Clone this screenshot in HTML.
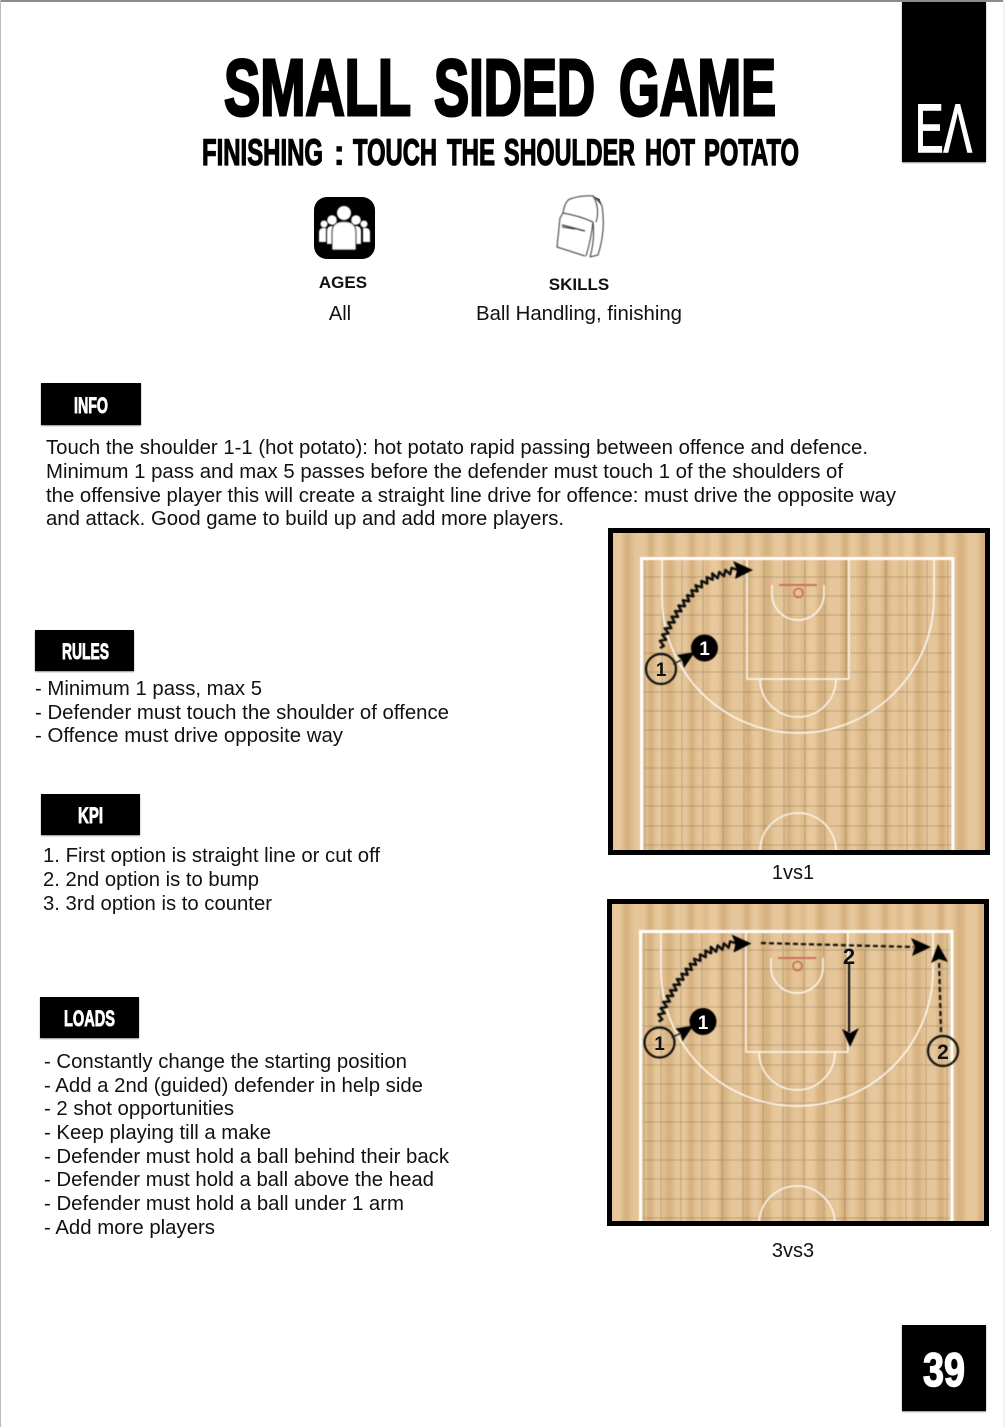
<!DOCTYPE html>
<html lang="en">
<head>
<meta charset="utf-8">
<title>Small Sided Game</title>
<style>
html,body{margin:0;padding:0;background:#fff;width:1005px;height:1427px;overflow:hidden}
svg{display:block}
text{font-family:"Liberation Sans",sans-serif;fill:#111}
.b{font-size:20px}
.t{font-family:"Liberation Sans Narrow","Liberation Sans",sans-serif;font-weight:700;fill:#000;stroke:#000}
.t1{font-size:80px;stroke-width:3}
.t2{font-size:37px;stroke-width:1.300}
.w{font-family:"Liberation Sans Narrow","Liberation Sans",sans-serif;font-weight:700;font-size:22.500px;fill:#fff;stroke:#fff;stroke-width:.9}
</style>
</head>
<body>
<svg xmlns="http://www.w3.org/2000/svg" width="1005" height="1427" viewBox="0 0 1005 1427">
<defs>
  <pattern id="grain" patternUnits="userSpaceOnUse" x="610" y="0" width="97" height="40">
    <rect x="0" y="0" width="97" height="40" fill="#dfbc8c"/>
    <rect x="3" y="0" width="9" height="40" fill="#eed3ab" opacity=".55"/>
    <rect x="15" y="0" width="5" height="40" fill="#cda673" opacity=".5"/>
    <rect x="24" y="0" width="12" height="40" fill="#ecd0a7" opacity=".5"/>
    <rect x="39" y="0" width="4" height="40" fill="#c9a06b" opacity=".45"/>
    <rect x="46" y="0" width="7" height="40" fill="#f0d7b2" opacity=".45"/>
    <rect x="57" y="0" width="6" height="40" fill="#cfa976" opacity=".5"/>
    <rect x="66" y="0" width="11" height="40" fill="#ecd1a9" opacity=".5"/>
    <rect x="80" y="0" width="4" height="40" fill="#c8a06c" opacity=".45"/>
    <rect x="87" y="0" width="7" height="40" fill="#edd2aa" opacity=".4"/>
  </pattern>
  <filter id="soft" x="-5%" y="-5%" width="110%" height="110%"><feGaussianBlur stdDeviation="0.5"/></filter>
  <filter id="soft2" x="0" y="0" width="100%" height="100%"><feGaussianBlur stdDeviation="1.200 0"/></filter>
  <filter id="shadow" x="-5%" y="-5%" width="110%" height="110%"><feDropShadow dx="0" dy="1" stdDeviation="0.8" flood-color="#000" flood-opacity=".45"/></filter>
  <clipPath id="cc"><rect x="610" y="530" width="378" height="322"/></clipPath>
  <g id="court" clip-path="url(#cc)">
    <rect x="610" y="530" width="378" height="322" fill="url(#grain)" filter="url(#soft2)"/>
    <g filter="url(#soft)">
      <path d="M645 558V852M662 558V852M682 558V852M703 558V852M723 558V852M744 558V852M764 558V852M784 558V852M805 558V852M825 558V852M846 558V852M866 558V852M886 558V852M907 558V852M927 558V852M948 558V852M643 577H952M643 596H952M643 615H952M643 634H952M643 653H952M643 672H952M643 692H952M643 711H952M643 730H952M643 749H952M643 768H952M643 787H952M643 806H952M643 826H952M643 845H952" fill="none" stroke="#6b5a48" stroke-opacity=".34" stroke-width="1"/>
      <path d="M641.500 852V558.500H953V852" fill="none" stroke="#fff" stroke-width="3"/>
      <g fill="none" stroke="#fff" stroke-opacity=".9" stroke-width="1.500">
        <path d="M747 558V679H849V558"/>
        <path d="M662 558V597A136 136 0 0 0 934 597V558"/>
        <path d="M772 585V594A26 26 0 0 0 824 594V585"/>
        <path d="M760 679A38 38 0 0 0 836 679"/>
        <circle cx="798" cy="851" r="38"/>
      </g>
      <path d="M779 585H817" stroke="#c9684c" stroke-width="1.800"/>
      <circle cx="798.500" cy="593" r="4.500" fill="none" stroke="#c9684c" stroke-width="1.500"/>
    </g>
  </g>
  <g id="play1" filter="url(#soft)">
    <polyline fill="none" stroke="#111" stroke-width="2.400" stroke-linejoin="round" points="660,648 663.800,645.900 659.800,640.800 666.200,639.700 662.200,634.600 668.600,633.500 664.600,628.400 671.300,628.100 668.200,622.300 674.700,622.500 671.600,616.700 678.100,616.900 675,611.100 681.500,611.300 678.400,605.500 685,606.300 682.900,600.200 689.200,601.300 687.100,595.200 693.400,596.300 691.300,590.200 697.600,591.300 695.500,585.200 701.900,587.400 701.400,580.900 707.300,583.600 706.800,577.100 712.700,579.800 712.200,573.300 717.700,578.300 719.200,571.900 723.900,576.300 725.400,569.900 730.100,574.300 731.600,567.900 738,570"/>
    <polygon points="753,570 733,561 737,570 735,579" fill="#000"/>
    <circle cx="661" cy="669" r="15" fill="none" stroke="#111" stroke-width="2.200"/>
    <circle cx="704.500" cy="648" r="13.500" fill="#000"/>
    <path d="M673 664L686 658" stroke="#222" stroke-width="1.500"/>
    <polygon points="695,652 677,655 682,660 684,668" fill="#000"/>
  </g>
</defs>

<rect width="1005" height="1427" fill="#fff"/>
<rect x="0" y="0" width="1005" height="2" fill="#8c8c8c"/>
<rect x="0" y="0" width="1" height="1427" fill="#bbb"/>
<rect x="1003" y="0" width="2" height="1427" fill="#f1f1f1"/>

<!-- Header -->
<text x="224" y="115" class="t t1" textLength="187" lengthAdjust="spacingAndGlyphs">SMALL</text>
<text x="434" y="115" class="t t1" textLength="161" lengthAdjust="spacingAndGlyphs">SIDED</text>
<text x="619" y="115" class="t t1" textLength="157" lengthAdjust="spacingAndGlyphs">GAME</text>

<text x="202" y="165" class="t t2" textLength="121" lengthAdjust="spacingAndGlyphs">FINISHING</text>
<text x="333" y="165" class="t t2" style="stroke-width:.3">:</text>
<text x="353" y="165" class="t t2" textLength="84" lengthAdjust="spacingAndGlyphs">TOUCH</text>
<text x="447" y="165" class="t t2" textLength="48" lengthAdjust="spacingAndGlyphs">THE</text>
<text x="504" y="165" class="t t2" textLength="131" lengthAdjust="spacingAndGlyphs">SHOULDER</text>
<text x="645" y="165" class="t t2" textLength="50" lengthAdjust="spacingAndGlyphs">HOT</text>
<text x="704" y="165" class="t t2" textLength="95" lengthAdjust="spacingAndGlyphs">POTATO</text>

<rect x="902" y="2" width="84" height="160" fill="#000" filter="url(#shadow)"/>
<text x="915" y="152" font-size="69" textLength="57" lengthAdjust="spacingAndGlyphs" stroke-width="1.500" style="fill:#fff;stroke:#fff">EΛ</text>

<!-- Ages icon -->
<rect x="314" y="197" width="61" height="62" rx="13" fill="#000"/>
<g fill="#fff" filter="url(#soft)">
  <circle cx="324" cy="224" r="3.500"/>
  <circle cx="364" cy="224" r="3.500"/>
  <path d="M319 242V233Q319 228 323 228H326V242Z"/>
  <path d="M370 242V233Q370 228 366 228H363V242Z"/>
  <circle cx="332" cy="220" r="4.800"/>
  <circle cx="356" cy="220" r="4.800"/>
  <path d="M327 244V231Q327 226 332 226H334V244Z"/>
  <path d="M361 244V231Q361 226 356 226H354V244Z"/>
  <circle cx="344" cy="213" r="7"/>
  <path d="M332 250V232Q332 221.500 344 221.500Q356 221.500 356 232V250Z" stroke="#000" stroke-width="1.200"/>
</g>

<!-- Backpack icon -->
<g fill="none" stroke="#333" stroke-width="1" filter="url(#soft)">
  <path d="M563 213Q565 201 570 199Q582 195 594 196"/>
  <path d="M593 197Q600 200 602 206Q606 230 598 255L590 257"/>
  <path d="M594 197Q600 210 596 222"/>
  <path d="M563 213Q580 216 593 222"/>
  <path d="M563 213L560 218L557 247L585 256"/>
  <path d="M593 222Q591 240 586 256"/>
  <path d="M593 222Q595 240 590 257"/>
  <path d="M562 225L585 231" stroke-width="1.300"/>
  <path d="M562 227L575 229"/>
</g>
<path d="M593 196L600 199L601 205L595 198Z" fill="#555"/>

<text x="343" y="288" text-anchor="middle" font-size="17" font-weight="700">AGES</text>
<text x="579" y="290" text-anchor="middle" font-size="17" font-weight="700">SKILLS</text>
<text x="340" y="320" text-anchor="middle" class="b">All</text>
<text x="476" y="320" class="b" textLength="206" lengthAdjust="spacingAndGlyphs">Ball Handling, finishing</text>

<!-- INFO -->
<rect x="41" y="383" width="100" height="42" fill="#000" filter="url(#shadow)"/>
<text x="74" y="413" class="w" textLength="34" lengthAdjust="spacingAndGlyphs">INFO</text>
<text x="46" y="454" class="b" textLength="822" lengthAdjust="spacingAndGlyphs">Touch the shoulder 1-1 (hot potato): hot potato rapid passing between offence and defence.</text>
<text x="46" y="478" class="b" textLength="797" lengthAdjust="spacingAndGlyphs">Minimum 1 pass and max 5 passes before the defender must touch 1 of the shoulders of</text>
<text x="46" y="502" class="b" textLength="850" lengthAdjust="spacingAndGlyphs">the offensive player this will create a straight line drive for offence: must drive the opposite way</text>
<text x="46" y="525" class="b" textLength="518" lengthAdjust="spacingAndGlyphs">and attack. Good game to build up and add more players.</text>

<!-- RULES -->
<rect x="35" y="630" width="99" height="41" fill="#000" filter="url(#shadow)"/>
<text x="62" y="659" class="w" textLength="47" lengthAdjust="spacingAndGlyphs">RULES</text>
<text x="35" y="695" class="b" textLength="227" lengthAdjust="spacingAndGlyphs">- Minimum 1 pass, max 5</text>
<text x="35" y="719" class="b" textLength="414" lengthAdjust="spacingAndGlyphs">- Defender must touch the shoulder of offence</text>
<text x="35" y="742" class="b" textLength="308" lengthAdjust="spacingAndGlyphs">- Offence must drive opposite way</text>

<!-- KPI -->
<rect x="41" y="794" width="99" height="41" fill="#000" filter="url(#shadow)"/>
<text x="78" y="823" class="w" textLength="25" lengthAdjust="spacingAndGlyphs">KPI</text>
<text x="43" y="862" class="b" textLength="337" lengthAdjust="spacingAndGlyphs">1. First option is straight line or cut off</text>
<text x="43" y="886" class="b" textLength="216" lengthAdjust="spacingAndGlyphs">2. 2nd option is to bump</text>
<text x="43" y="910" class="b" textLength="229" lengthAdjust="spacingAndGlyphs">3. 3rd option is to counter</text>

<!-- LOADS -->
<rect x="40" y="997" width="99" height="41" fill="#000" filter="url(#shadow)"/>
<text x="64" y="1026" class="w" textLength="51" lengthAdjust="spacingAndGlyphs">LOADS</text>
<text x="44" y="1068" class="b" textLength="363" lengthAdjust="spacingAndGlyphs">- Constantly change the starting position</text>
<text x="44" y="1092" class="b" textLength="379" lengthAdjust="spacingAndGlyphs">- Add a 2nd (guided) defender in help side</text>
<text x="44" y="1115" class="b" textLength="190" lengthAdjust="spacingAndGlyphs">- 2 shot opportunities</text>
<text x="44" y="1139" class="b" textLength="227" lengthAdjust="spacingAndGlyphs">- Keep playing till a make</text>
<text x="44" y="1163" class="b" textLength="405" lengthAdjust="spacingAndGlyphs">- Defender must hold a ball behind their back</text>
<text x="44" y="1186" class="b" textLength="390" lengthAdjust="spacingAndGlyphs">- Defender must hold a ball above the head</text>
<text x="44" y="1210" class="b" textLength="360" lengthAdjust="spacingAndGlyphs">- Defender must hold a ball under 1 arm</text>
<text x="44" y="1234" class="b" textLength="171" lengthAdjust="spacingAndGlyphs">- Add more players</text>

<!-- Court 1 -->
<use href="#court"/>
<rect x="610.500" y="530.500" width="377" height="322" fill="none" stroke="#000" stroke-width="5"/>
<use href="#play1"/>
<text x="661" y="676" text-anchor="middle" font-size="19" font-weight="700" style="fill:#111">1</text>
<text x="704.500" y="655" text-anchor="middle" font-size="19" font-weight="700" style="fill:#fff">1</text>
<text x="793" y="879" text-anchor="middle" class="b">1vs1</text>

<!-- Court 2 -->
<use href="#court" transform="translate(-1 373)"/>
<rect x="609.500" y="901.500" width="377" height="322" fill="none" stroke="#000" stroke-width="5"/>
<use href="#play1" transform="translate(-1.500 373.500)"/>
<text x="659.500" y="1050" text-anchor="middle" font-size="19" font-weight="700" style="fill:#111">1</text>
<text x="703" y="1029" text-anchor="middle" font-size="19" font-weight="700" style="fill:#fff">1</text>
<g filter="url(#soft)">
  <path d="M761 943L914 947" stroke="#111" stroke-width="2.200" stroke-dasharray="5 3" fill="none"/>
  <polygon points="931,947 911,938 915,947 912,956" fill="#000"/>
  <path d="M941 1032L939 960" stroke="#111" stroke-width="2.200" stroke-dasharray="5 3" fill="none"/>
  <polygon points="938,944 931,963 939,959 948,962" fill="#000"/>
  <path d="M849 963V1032" stroke="#111" stroke-width="2.200" fill="none"/>
  <polygon points="850,1047 842,1029 850,1033 859,1028" fill="#000"/>
  <circle cx="943" cy="1051" r="15" fill="none" stroke="#111" stroke-width="2.200"/>
</g>
<text x="849" y="964" text-anchor="middle" font-size="22" font-weight="700" style="fill:#111">2</text>
<text x="943" y="1059" text-anchor="middle" font-size="21" font-weight="700" style="fill:#111">2</text>
<text x="793" y="1257" text-anchor="middle" class="b">3vs3</text>

<!-- Page number -->
<rect x="902" y="1325" width="84" height="86" fill="#000" filter="url(#shadow)"/>
<text x="923" y="1386" font-size="47" textLength="42" lengthAdjust="spacingAndGlyphs" stroke-width="1.500" style="fill:#fff;stroke:#fff;font-weight:700;font-family:'Liberation Sans Narrow','Liberation Sans',sans-serif">39</text>
</svg>
</body>
</html>
